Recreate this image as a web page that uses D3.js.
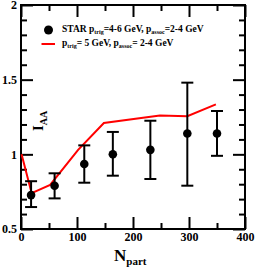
<!DOCTYPE html>
<html>
<head>
<meta charset="utf-8">
<script src="https://cdn.jsdelivr.net/npm/d3@7"></script>
<style>
  body { margin: 0; background: #fff; }
  svg text { font-family: "Liberation Serif", "Times New Roman", serif; font-weight: bold; }
</style>
</head>
<body>
<div id="chart"></div>
<script>
// STAR data points: Npart, IAA, error low, error high
const starNpart = [18, 60, 113, 164, 231, 297, 350];
const starIaa   = [0.727, 0.79, 0.935, 1.0, 1.03, 1.14, 1.14];
const starLow   = [0.647, 0.705, 0.81, 0.857, 0.835, 0.79, 0.99];
const starHigh  = [0.82, 0.873, 1.06, 1.15, 1.225, 1.48, 1.29];

// model curve
const lineNpart = [1, 19, 52, 102, 148, 248, 297, 348];
const lineIaa   = [1.0, 0.74, 0.795, 1.03, 1.21, 1.26, 1.255, 1.335];

const xTicks = [0, 100, 200, 300, 400];
const yTicks = [0.5, 1, 1.5, 2];

const width = 255, height = 268;
const margin = {left: 21, right: 10, top: 5, bottom: 39};

const svg = d3.select("#chart").append("svg")
  .attr("width", width)
  .attr("height", height);

const x = d3.scaleLinear().domain([0, 400]).range([margin.left, width - margin.right]);
const y = d3.scaleLinear().domain([0.5, 2]).range([height - margin.bottom, margin.top]);

const minorX = d3.range(50, 400, 100);
const minorY = d3.range(0.6, 2, 0.1).filter(v => Math.abs(v * 2 - Math.round(v * 2)) > 0.01);

function styleAxis(g) {
  g.select(".domain").remove();
  g.selectAll("line").attr("stroke", "#000").attr("stroke-width", 2);
}

// bottom
svg.append("g")
  .attr("transform", "translate(0," + y(0.5) + ")")
  .call(d3.axisBottom(x).tickValues(xTicks).tickSize(-12).tickPadding(3).tickFormat(d3.format("d")))
  .call(styleAxis)
  .call(g => g.selectAll("text").attr("font-size", 12).attr("fill", "#000"));
svg.append("g")
  .attr("transform", "translate(0," + y(0.5) + ")")
  .call(d3.axisBottom(x).tickValues(minorX).tickSize(-6).tickFormat(""))
  .call(styleAxis);

// top
svg.append("g")
  .attr("transform", "translate(0," + y(2) + ")")
  .call(d3.axisTop(x).tickValues(xTicks).tickSize(-12).tickFormat(""))
  .call(styleAxis);
svg.append("g")
  .attr("transform", "translate(0," + y(2) + ")")
  .call(d3.axisTop(x).tickValues(minorX).tickSize(-6).tickFormat(""))
  .call(styleAxis);

// left
svg.append("g")
  .attr("transform", "translate(" + x(0) + ",0)")
  .call(d3.axisLeft(y).tickValues(yTicks).tickSize(-12).tickPadding(4).tickFormat(d => d))
  .call(styleAxis)
  .call(g => g.selectAll("text").attr("font-size", 12).attr("fill", "#000"));
svg.append("g")
  .attr("transform", "translate(" + x(0) + ",0)")
  .call(d3.axisLeft(y).tickValues(minorY).tickSize(-6).tickFormat(""))
  .call(styleAxis);

// right
svg.append("g")
  .attr("transform", "translate(" + x(400) + ",0)")
  .call(d3.axisRight(y).tickValues(yTicks).tickSize(-12).tickFormat(""))
  .call(styleAxis);
svg.append("g")
  .attr("transform", "translate(" + x(400) + ",0)")
  .call(d3.axisRight(y).tickValues(minorY).tickSize(-6).tickFormat(""))
  .call(styleAxis);

// frame
svg.append("rect")
  .attr("x", x(0)).attr("y", y(2))
  .attr("width", x(400) - x(0)).attr("height", y(0.5) - y(2))
  .attr("fill", "none").attr("stroke", "#000").attr("stroke-width", 2);

// red model line
const lineData = lineNpart.map((n, i) => [n, lineIaa[i]]);
svg.append("path")
  .datum(lineData)
  .attr("fill", "none")
  .attr("stroke", "#ff0000")
  .attr("stroke-width", 2)
  .attr("d", d3.line().x(d => x(d[0])).y(d => y(d[1])));

// error bars + points
const pts = starNpart.map((n, i) => ({n: n, v: starIaa[i], lo: starLow[i], hi: starHigh[i]}));
const eb = svg.append("g").attr("stroke", "#000").attr("stroke-width", 2);
pts.forEach(p => {
  eb.append("line").attr("x1", x(p.n)).attr("x2", x(p.n)).attr("y1", y(p.lo)).attr("y2", y(p.hi));
  eb.append("line").attr("x1", x(p.n) - 6).attr("x2", x(p.n) + 6).attr("y1", y(p.lo)).attr("y2", y(p.lo));
  eb.append("line").attr("x1", x(p.n) - 6).attr("x2", x(p.n) + 6).attr("y1", y(p.hi)).attr("y2", y(p.hi));
});
svg.append("g").selectAll("circle")
  .data(pts)
  .enter()
  .append("circle")
  .attr("cx", d => x(d.n))
  .attr("cy", d => y(d.v))
  .attr("r", 4.3)
  .attr("fill", "#000");

// legend
svg.append("circle").attr("cx", 48.5).attr("cy", 30).attr("r", 4.5).attr("fill", "#000");
const t1 = svg.append("text").attr("x", 62).attr("y", 32).attr("font-size", 9.5);
t1.append("tspan").text("STAR p");
t1.append("tspan").attr("font-size", 6).attr("dy", 2).text("trig");
t1.append("tspan").attr("dy", -2).text("=4-6 GeV, p");
t1.append("tspan").attr("font-size", 6).attr("dy", 2).text("assoc");
t1.append("tspan").attr("dy", -2).text("=2-4 GeV");

svg.append("line").attr("x1", 41.5).attr("x2", 55).attr("y1", 44).attr("y2", 44)
  .attr("stroke", "#ff0000").attr("stroke-width", 2);
const t2 = svg.append("text").attr("x", 62).attr("y", 46).attr("font-size", 9.5);
t2.append("tspan").text("p");
t2.append("tspan").attr("font-size", 6).attr("dy", 2).text("trig");
t2.append("tspan").attr("dy", -2).text("= 5 GeV, p");
t2.append("tspan").attr("font-size", 6).attr("dy", 2).text("assoc");
t2.append("tspan").attr("dy", -2).text("= 2-4 GeV");

// axis titles
const yl = svg.append("text")
  .attr("transform", "translate(43,131) rotate(-90)")
  .attr("font-size", 15);
yl.append("tspan").text("I");
yl.append("tspan").attr("font-size", 10).attr("dy", 4).text("AA");

const xl = svg.append("text").attr("x", 114).attr("y", 261).attr("font-size", 17);
xl.append("tspan").text("N");
xl.append("tspan").attr("font-size", 11).attr("dy", 4).text("part");
</script>
</body>
</html>
